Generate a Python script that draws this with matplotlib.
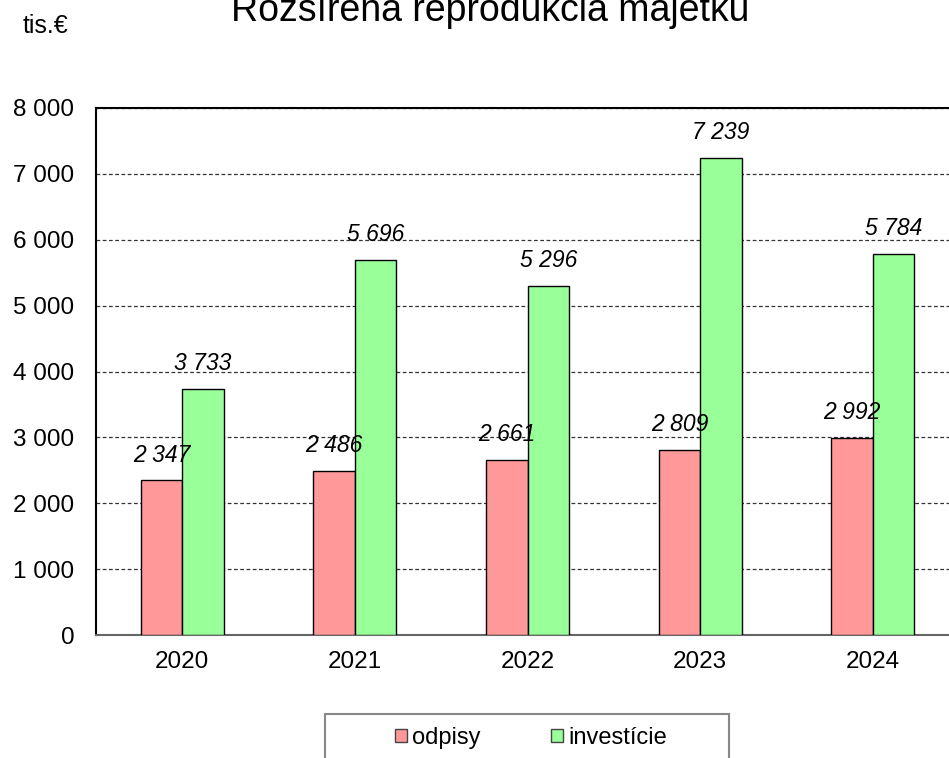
import matplotlib
matplotlib.use("Agg")
import matplotlib.pyplot as plt
import numpy as np
from matplotlib.ticker import FuncFormatter
from matplotlib.patches import Rectangle

years = ["2020", "2021", "2022", "2023", "2024"]
odpisy = [2347, 2486, 2661, 2809, 2992]
investicie = [3733, 5696, 5296, 7239, 5784]
series_names = ["odpisy", "investície"]
yticks = [0, 1000, 2000, 3000, 4000, 5000, 6000, 7000, 8000]

plt.rcParams['font.family'] = ['Liberation Sans', 'DejaVu Sans']

W, H = 949, 758
fig = plt.figure(figsize=(W / 100, H / 100), dpi=100)
left, right, top, bottom = 96, 959, 108, 635
ax = fig.add_axes([left / W, 1 - bottom / H, (right - left) / W, (bottom - top) / H])

x = np.arange(len(years))
bw = 0.24
b1 = ax.bar(x - bw / 2, odpisy, bw, color="#FF9999", edgecolor="black", linewidth=1, label=series_names[0], zorder=3)
b2 = ax.bar(x + bw / 2, investicie, bw, color="#99FF99", edgecolor="black", linewidth=1, label=series_names[1], zorder=3)

def fmt(v):
    return f"{int(v):,}".replace(",", " ")

for bars in (b1, b2):
    for r in bars:
        ax.annotate(fmt(r.get_height()), (r.get_x() + r.get_width() / 2, r.get_height()),
                    xytext=(0, 10), textcoords="offset points", ha="center", va="bottom",
                    fontsize=16.5, style="italic", zorder=4)

ax.set_xlim(-0.5, 4.5)
ax.set_ylim(0, 8000)
ax.set_yticks(yticks)
ax.yaxis.set_major_formatter(FuncFormatter(lambda v, p: fmt(v)))
ax.set_xticks(x)
ax.set_xticklabels(years)
ax.tick_params(axis="both", length=0, labelsize=17.5, colors="black")
ax.tick_params(axis="y", pad=15.5)
ax.tick_params(axis="x", pad=11.5)
ax.grid(axis="y", linestyle=(0, (3, 2)), color="#333333", linewidth=0.9, zorder=1)
for s in ["left", "top"]:
    ax.spines[s].set_color("black")
    ax.spines[s].set_linewidth(1.5)
ax.spines["bottom"].set_color("#666666")
ax.spines["bottom"].set_linewidth(1.5)
ax.spines["right"].set_visible(False)

fig.text(490 / W, 1 - 21 / H, "Rozšírená reprodukcia majetku", ha="center", va="baseline", fontsize=27)
fig.text(23 / W, 1 - 33 / H, "tis.€", ha="left", va="baseline", fontsize=18)

# legend frame (extends beyond the bottom edge)
fig.patches.append(Rectangle((325 / W, -10 / H), (729 - 325) / W, (758 + 10 - 714) / H,
                             transform=fig.transFigure, facecolor="white",
                             edgecolor="#888888", linewidth=1.5, zorder=0))
leg = fig.legend(handles=[b1, b2], labels=series_names, loc="center",
                 bbox_to_anchor=(531 / W, 1 - 738 / H), ncol=2, frameon=False, fontsize=17,
                 handlelength=0.51, handleheight=0.51, handletextpad=0.21,
                 columnspacing=3.0, borderpad=0, borderaxespad=0)
for h in leg.legend_handles:
    h.set_edgecolor("#444444")

fig.savefig("out.png", dpi=100)
